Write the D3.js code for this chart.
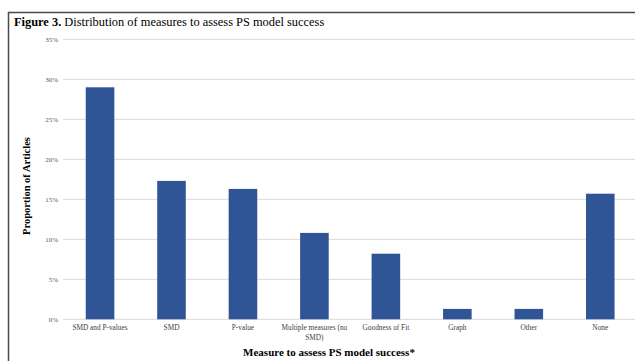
<!DOCTYPE html>
<html>
<head>
<meta charset="utf-8">
<script src="https://cdn.jsdelivr.net/npm/d3@7"></script>
<style>
  html, body { margin: 0; padding: 0; background: #ffffff; }
  svg { display: block; }
</style>
</head>
<body>
<svg id="chart" width="635" height="361"></svg>
<script>
// Share of articles by the measure used to assess propensity-score model success
const categories = ["SMD and P-values", "SMD", "P-value", "Multiple measures (no SMD)", "Goodness of Fit", "Graph", "Other", "None"];
const proportions = [29.0, 17.3, 16.3, 10.8, 8.2, 1.3, 1.3, 15.7];
const yTicks = [0, 5, 10, 15, 20, 25, 30, 35];

const svg = d3.select("#chart");
const serif = "'Liberation Serif', 'Times New Roman', serif";

// Frame lines (top and left)
svg.append("line").attr("x1", 8).attr("x2", 635).attr("y1", 12.5).attr("y2", 12.5)
  .attr("stroke", "#4a4a4a").attr("stroke-width", 1.5);
svg.append("line").attr("x1", 8.5).attr("x2", 8.5).attr("y1", 12).attr("y2", 361)
  .attr("stroke", "#4a4a4a").attr("stroke-width", 1.5);

// Figure caption
const cap = svg.append("text").attr("x", 14).attr("y", 26)
  .attr("font-family", serif).attr("font-size", 12.4).attr("fill", "#000");
cap.append("tspan").attr("font-weight", "bold").text("Figure 3.");
cap.append("tspan").text(" Distribution of measures to assess PS model success");

const x = d3.scaleBand().domain(categories).range([64.3, 636])
  .paddingInner(0.6).paddingOuter(0.3);
const y = d3.scaleLinear().domain([0, 35]).range([319.3, 39.3]);

// Horizontal gridlines
svg.append("g").selectAll("line").data(yTicks).join("line")
  .attr("x1", 63).attr("x2", 635)
  .attr("y1", d => y(d)).attr("y2", d => y(d))
  .attr("stroke", "#d9d9d9").attr("stroke-width", 1);

// Y axis labels
const yAxis = svg.append("g").attr("transform", "translate(63,0)")
  .call(d3.axisLeft(y).tickValues(yTicks).tickSize(0).tickPadding(5).tickFormat(d => d + "%"));
yAxis.select(".domain").remove();
yAxis.selectAll("text").attr("font-family", serif).attr("font-size", 7).attr("fill", "#595959");

// Bars
svg.append("g").selectAll("rect").data(categories).join("rect")
  .attr("x", d => x(d))
  .attr("width", x.bandwidth())
  .attr("y", (d, i) => y(proportions[i]))
  .attr("height", (d, i) => y(0) - y(proportions[i]))
  .attr("fill", "#2f5597");

// X axis category labels (wrapped)
const xAxis = svg.append("g").attr("transform", `translate(0,${y(0)})`)
  .call(d3.axisBottom(x).tickSize(0).tickPadding(6));
xAxis.select(".domain").remove();
xAxis.selectAll("text")
  .attr("font-family", serif).attr("font-size", 7.3).attr("fill", "#404040")
  .each(function(d) {
    const t = d3.select(this);
    if (d === "Multiple measures (no SMD)") {
      t.text(null);
      t.append("tspan").attr("x", 0).attr("dy", "0.71em").text("Multiple measures (no");
      t.append("tspan").attr("x", 0).attr("dy", "1.3em").text("SMD)");
      t.attr("dy", null);
    }
  });

// Axis titles
svg.append("text")
  .attr("transform", "translate(30,186) rotate(-90)")
  .attr("text-anchor", "middle")
  .attr("font-family", serif).attr("font-size", 10.5).attr("font-weight", "bold")
  .attr("fill", "#000")
  .text("Proportion of Articles");

svg.append("text")
  .attr("x", 329).attr("y", 356)
  .attr("text-anchor", "middle")
  .attr("font-family", serif).attr("font-size", 11).attr("font-weight", "bold")
  .attr("fill", "#000")
  .text("Measure to assess PS model success*");
</script>
</body>
</html>
